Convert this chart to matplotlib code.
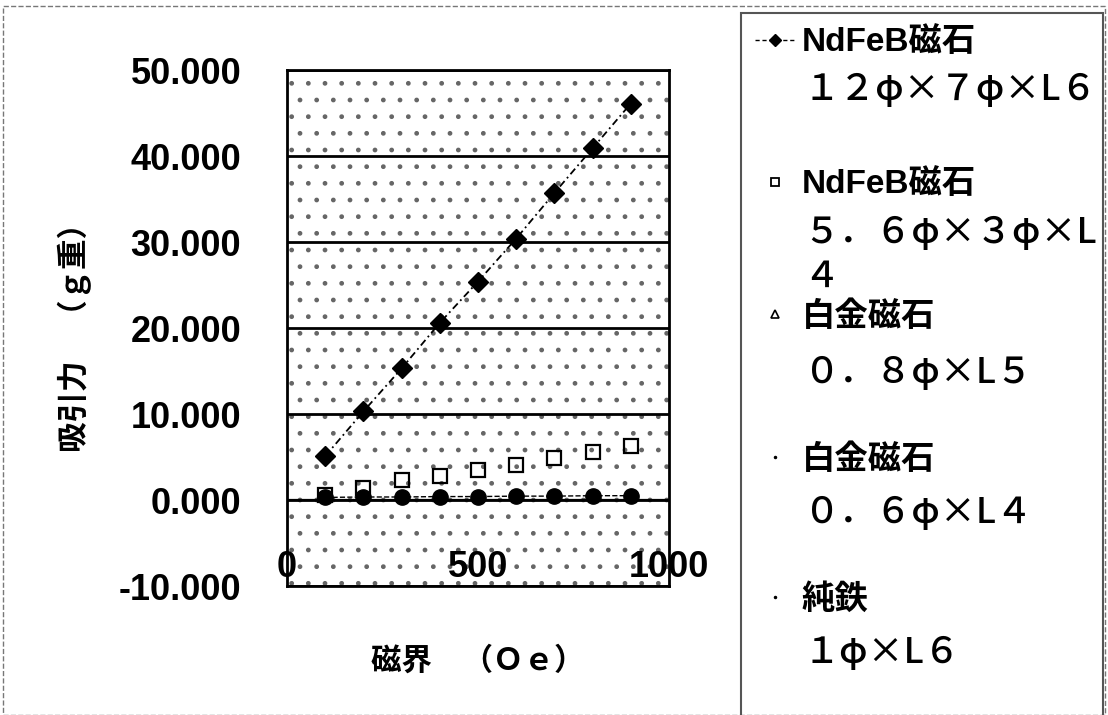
import matplotlib
matplotlib.use('Agg')
import matplotlib.pyplot as plt
from matplotlib.lines import Line2D
from matplotlib.patches import Rectangle

plt.rcParams['font.family'] = ['Liberation Sans', 'Noto Sans CJK JP', 'DejaVu Sans']
plt.rcParams['hatch.color'] = '#666666'
plt.rcParams['hatch.linewidth'] = 1.0

# data
field = [100, 200, 300, 400, 500, 600, 700, 800, 900]
ndfeb_12 = [5.1, 10.3, 15.3, 20.6, 25.4, 30.4, 35.7, 40.9, 46.1]
ndfeb_56 = [0.6, 1.4, 2.3, 2.8, 3.5, 4.1, 4.9, 5.6, 6.3]
pt_08 = [0.3, 0.35, 0.35, 0.4, 0.4, 0.45, 0.45, 0.5, 0.5]
pt_06 = [0.05, 0.05, 0.05, 0.1, 0.1, 0.1, 0.1, 0.15, 0.15]
fe_1 = [0.1, 0.1, 0.15, 0.15, 0.2, 0.2, 0.2, 0.25, 0.25]

names = ['NdFeB磁石', 'NdFeB磁石', '白金磁石', '白金磁石', '純鉄']
specs = [['１２φ×７φ×L６'], ['５．６φ×３φ×L', '４'], ['０．８φ×L５'],
         ['０．６φ×L４'], ['１φ×L６']]
yticks = [-10, 0, 10, 20, 30, 40, 50]
xticks = [0, 500, 1000]

W, H = 1108, 715
fig = plt.figure(figsize=(W / 100, H / 100), dpi=100)
ax = fig.add_axes([287 / W, 1 - 586 / H, 382 / W, 516 / H])
ax.add_patch(Rectangle((0, 0), 1, 1, transform=ax.transAxes, facecolor='white',
                       edgecolor='#666666', lw=0, hatch='.', zorder=0))

l1, = ax.plot(field, ndfeb_12, color='black', ls=(0, (4, 2, 1, 2)), lw=1.3,
              marker='D', ms=10, mfc='black', mec='black')
l2, = ax.plot(field, ndfeb_56, color='#444444', ls='none', lw=1,
              marker='s', ms=10, mfc='none', mec='black', mew=1.6)
l3, = ax.plot(field, pt_08, color='black', ls='--', lw=1,
              marker='o', ms=11, mfc='black', mec='black')
l4, = ax.plot(field, pt_06, color='black', ls='none', marker='.', ms=3)
l5, = ax.plot(field, fe_1, color='black', ls='none', marker='.', ms=3)
ax.axhline(0, color='black', lw=1.6, zorder=1)

ax.set_xlim(0, 1000)
ax.set_ylim(-10, 50)
ax.set_yticks(yticks)
ax.set_yticklabels(['%.3f' % v for v in yticks])
ax.set_xticks(xticks)
ax.set_xticklabels([str(v) for v in xticks])
ax.tick_params(axis='y', length=0, pad=33, labelsize=26)
ax.tick_params(axis='x', length=0, pad=-26, labelsize=26)
for lab in ax.get_xticklabels() + ax.get_yticklabels():
    lab.set_fontweight('bold')
ax.yaxis.grid(True, color='black', lw=2)
ax.set_axisbelow(True)
for sp in ax.spines.values():
    sp.set_linewidth(2)
    sp.set_color('black')

fig.text(478 / W, 1 - 662 / H, '磁界　（Ｏｅ）', ha='center', va='center',
         fontsize=22, fontweight='bold')
fig.text(75 / W, 1 - 330 / H, '吸引力　（ｇ重）', ha='center', va='center',
         rotation=90, fontsize=22, fontweight='bold')

# outer chart border and legend frame
fig.add_artist(Rectangle((3 / W, 0), 1 - 6 / W, 1 - 6 / H, transform=fig.transFigure,
                         fill=False, ec='#777777', lw=1, ls='--'))
fig.add_artist(Rectangle((741 / W, -0.01), (1103 - 741) / W, 1 - 13 / H + 0.01,
                         transform=fig.transFigure, fill=False, ec='#555555', lw=1.5))

# legend keys as they appear in the legend box
keys = [Line2D([], [], color='black', ls=(0, (3, 2)), lw=1, marker='D', ms=6),
        Line2D([], [], ls='none', marker='s', ms=6, mfc='none', mec='black', mew=1.3),
        Line2D([], [], ls='none', marker='^', ms=6, mfc='none', mec='black', mew=1.2),
        Line2D([], [], ls='none', marker='.', ms=3, color='black'),
        Line2D([], [], ls='none', marker='.', ms=3, color='black')]

name_y = [43, 185, 317, 460, 600]
spec_y = [[90], [233, 277], [373], [513], [653]]
for h, nm, ny in zip(keys, names, name_y):
    fig.legend([h], [nm], loc='center left', bbox_to_anchor=(755 / W, 1 - ny / H),
               frameon=False, borderpad=0, borderaxespad=0, handlelength=1.2,
               handletextpad=0.2, prop={'size': 24, 'weight': 'bold'})
for sp_lines, ys in zip(specs, spec_y):
    for txt, y in zip(sp_lines, ys):
        fig.text(803 / W, 1 - y / H, txt, ha='left', va='center', fontsize=26,
                 fontweight='medium', family=['Noto Sans CJK JP', 'DejaVu Sans'])

fig.savefig('out.png', dpi=100)
